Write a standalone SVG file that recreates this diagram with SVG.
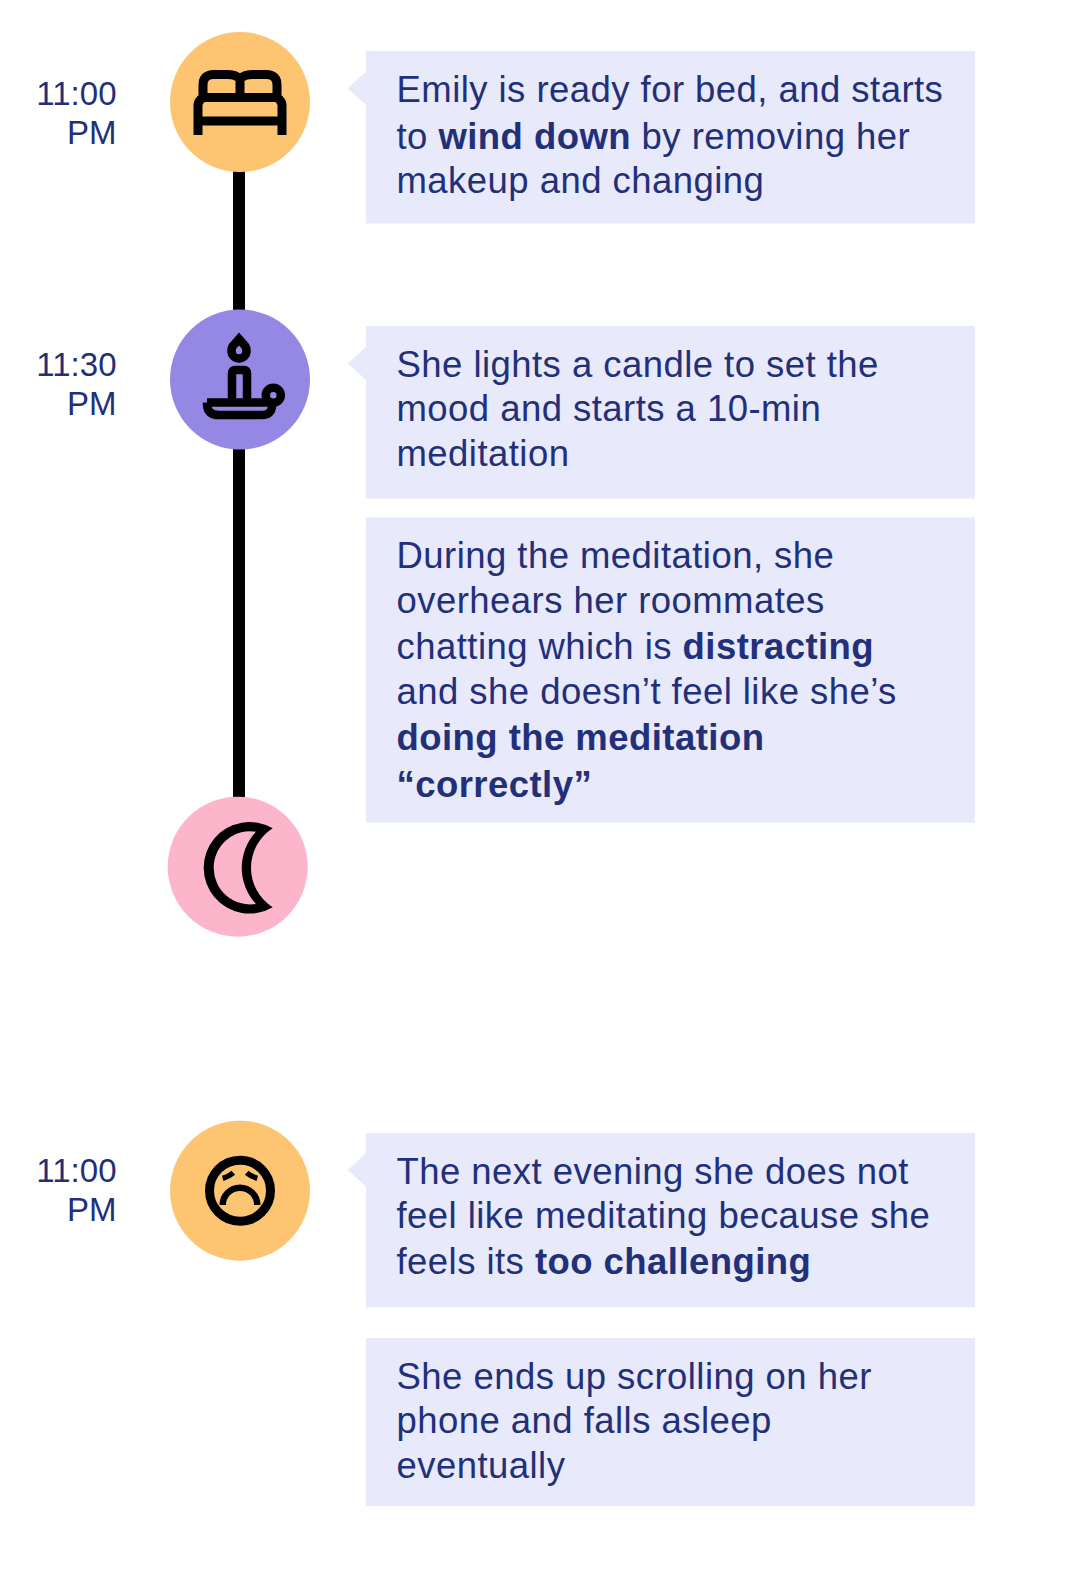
<svg xmlns="http://www.w3.org/2000/svg" width="1084" height="1594" viewBox="0 0 1084 1594">
<style>
text{font-family:"Liberation Sans",Arial,sans-serif;fill:#22307a}
.b{font-size:36.5px;letter-spacing:.45px}.t{font-size:33px;text-anchor:end}
.s{font-weight:700}
.box{fill:#e8e9fb}
.i{fill:none;stroke:#000;stroke-width:9}
</style>
<rect width="1084" height="1594" fill="#fff"/>
<g id="connectors" fill="#000">
<rect x="233" y="165" width="12" height="150"/>
<rect x="233" y="440" width="12" height="370"/>
</g>
<g id="node1">
<circle cx="240" cy="102" r="70" fill="#fdc572"/>
<path class="i" d="M198 135V105Q198 101 203 97.500H277Q282 101 282 105V135M198 121H282M203 97V85Q203 74.500 214 74.500H228Q236 74.500 240 79Q244 74.500 252 74.500H266Q277 74.500 277 85V97M240 79V97"/>
<text class="t" x="116.500" y="105">11:00</text><text class="t" x="116.500" y="144">PM</text>
<path class="box" d="M366 51H975V223.500H366V105L347.700 88.300L366 71.700Z"/>
<text class="b" x="396.500" y="102">Emily is ready for bed, and starts</text>
<text class="b" x="396.500" y="149">to <tspan class="s">wind down</tspan> by removing her</text>
<text class="b" x="396.500" y="193">makeup and changing</text>
</g>
<g id="node2">
<circle cx="240" cy="379.500" r="70" fill="#9587e4"/>
<path class="i" style="stroke-width:8.500" d="M239 339L232.500 346.500Q231.500 348.500 231.500 351A7.500 7.500 0 0 0 246.500 351Q246.500 348.500 245.500 346.500ZM232 402V373Q232 370 235 370H244Q247 370 247 373V402M207 402.500H268M207 402.500V404Q207 415 219 415H262Q272 415 272 405"/>
<circle class="i" style="stroke-width:8.500" cx="273.300" cy="395.300" r="7.500"/>
<text class="t" x="116.500" y="376">11:30</text><text class="t" x="116.500" y="415">PM</text>
<path class="box" d="M366 326H975V498.500H366V380L347.700 363.300L366 346.700Z"/>
<text class="b" x="396.500" y="377">She lights a candle to set the</text>
<text class="b" x="396.500" y="421">mood and starts a 10-min</text>
<text class="b" x="396.500" y="466">meditation</text>
</g>
<g id="node2b">
<rect class="box" x="366" y="517.500" width="609" height="305"/>
<text class="b" x="396.500" y="568">During the meditation, she</text>
<text class="b" x="396.500" y="613">overhears her roommates</text>
<text class="b" x="396.500" y="659">chatting which is <tspan class="s">distracting</tspan></text>
<text class="b" x="396.500" y="704">and she doesn’t feel like she’s</text>
<text class="b s" x="396.500" y="750">doing the meditation</text>
<text class="b s" x="396.500" y="797">“correctly”</text>
</g>
<g id="node3">
<circle cx="237.700" cy="866.700" r="70" fill="#fdb5cc"/>
<path fill="#000" fill-rule="evenodd" d="M272.700 828.300A45.800 45.800 0 1 0 272.700 907.300A46.800 46.800 0 0 1 272.700 828.300ZM256 831.700A36.600 36.600 0 1 0 256 904A52.900 52.900 0 0 1 256 831.700Z"/>
</g>
<g id="node4">
<circle cx="240" cy="1190.700" r="70" fill="#fdc572"/>
<circle class="i" cx="240" cy="1190.700" r="30.500"/>
<path class="i" style="stroke-width:6.500" d="M222.700 1205A17.300 17.300 0 0 1 257.300 1205"/>
<path class="i" style="stroke-width:5.500" d="M222.700 1178.300Q229 1176.500 233.300 1172.700M257.300 1178.300Q251 1176.500 246.700 1172.700"/>
<text class="t" x="116.500" y="1182">11:00</text><text class="t" x="116.500" y="1221">PM</text>
<path class="box" d="M366 1133H975V1307.500H366V1186.700L347.700 1170L366 1153.300Z"/>
<text class="b" x="396.500" y="1184">The next evening she does not</text>
<text class="b" x="396.500" y="1228">feel like meditating because she</text>
<text class="b" x="396.500" y="1274">feels its <tspan class="s">too challenging</tspan></text>
</g>
<g id="node5">
<rect class="box" x="366" y="1338" width="609" height="168"/>
<text class="b" x="396.500" y="1389">She ends up scrolling on her</text>
<text class="b" x="396.500" y="1433">phone and falls asleep</text>
<text class="b" x="396.500" y="1478">eventually</text>
</g>
</svg>
